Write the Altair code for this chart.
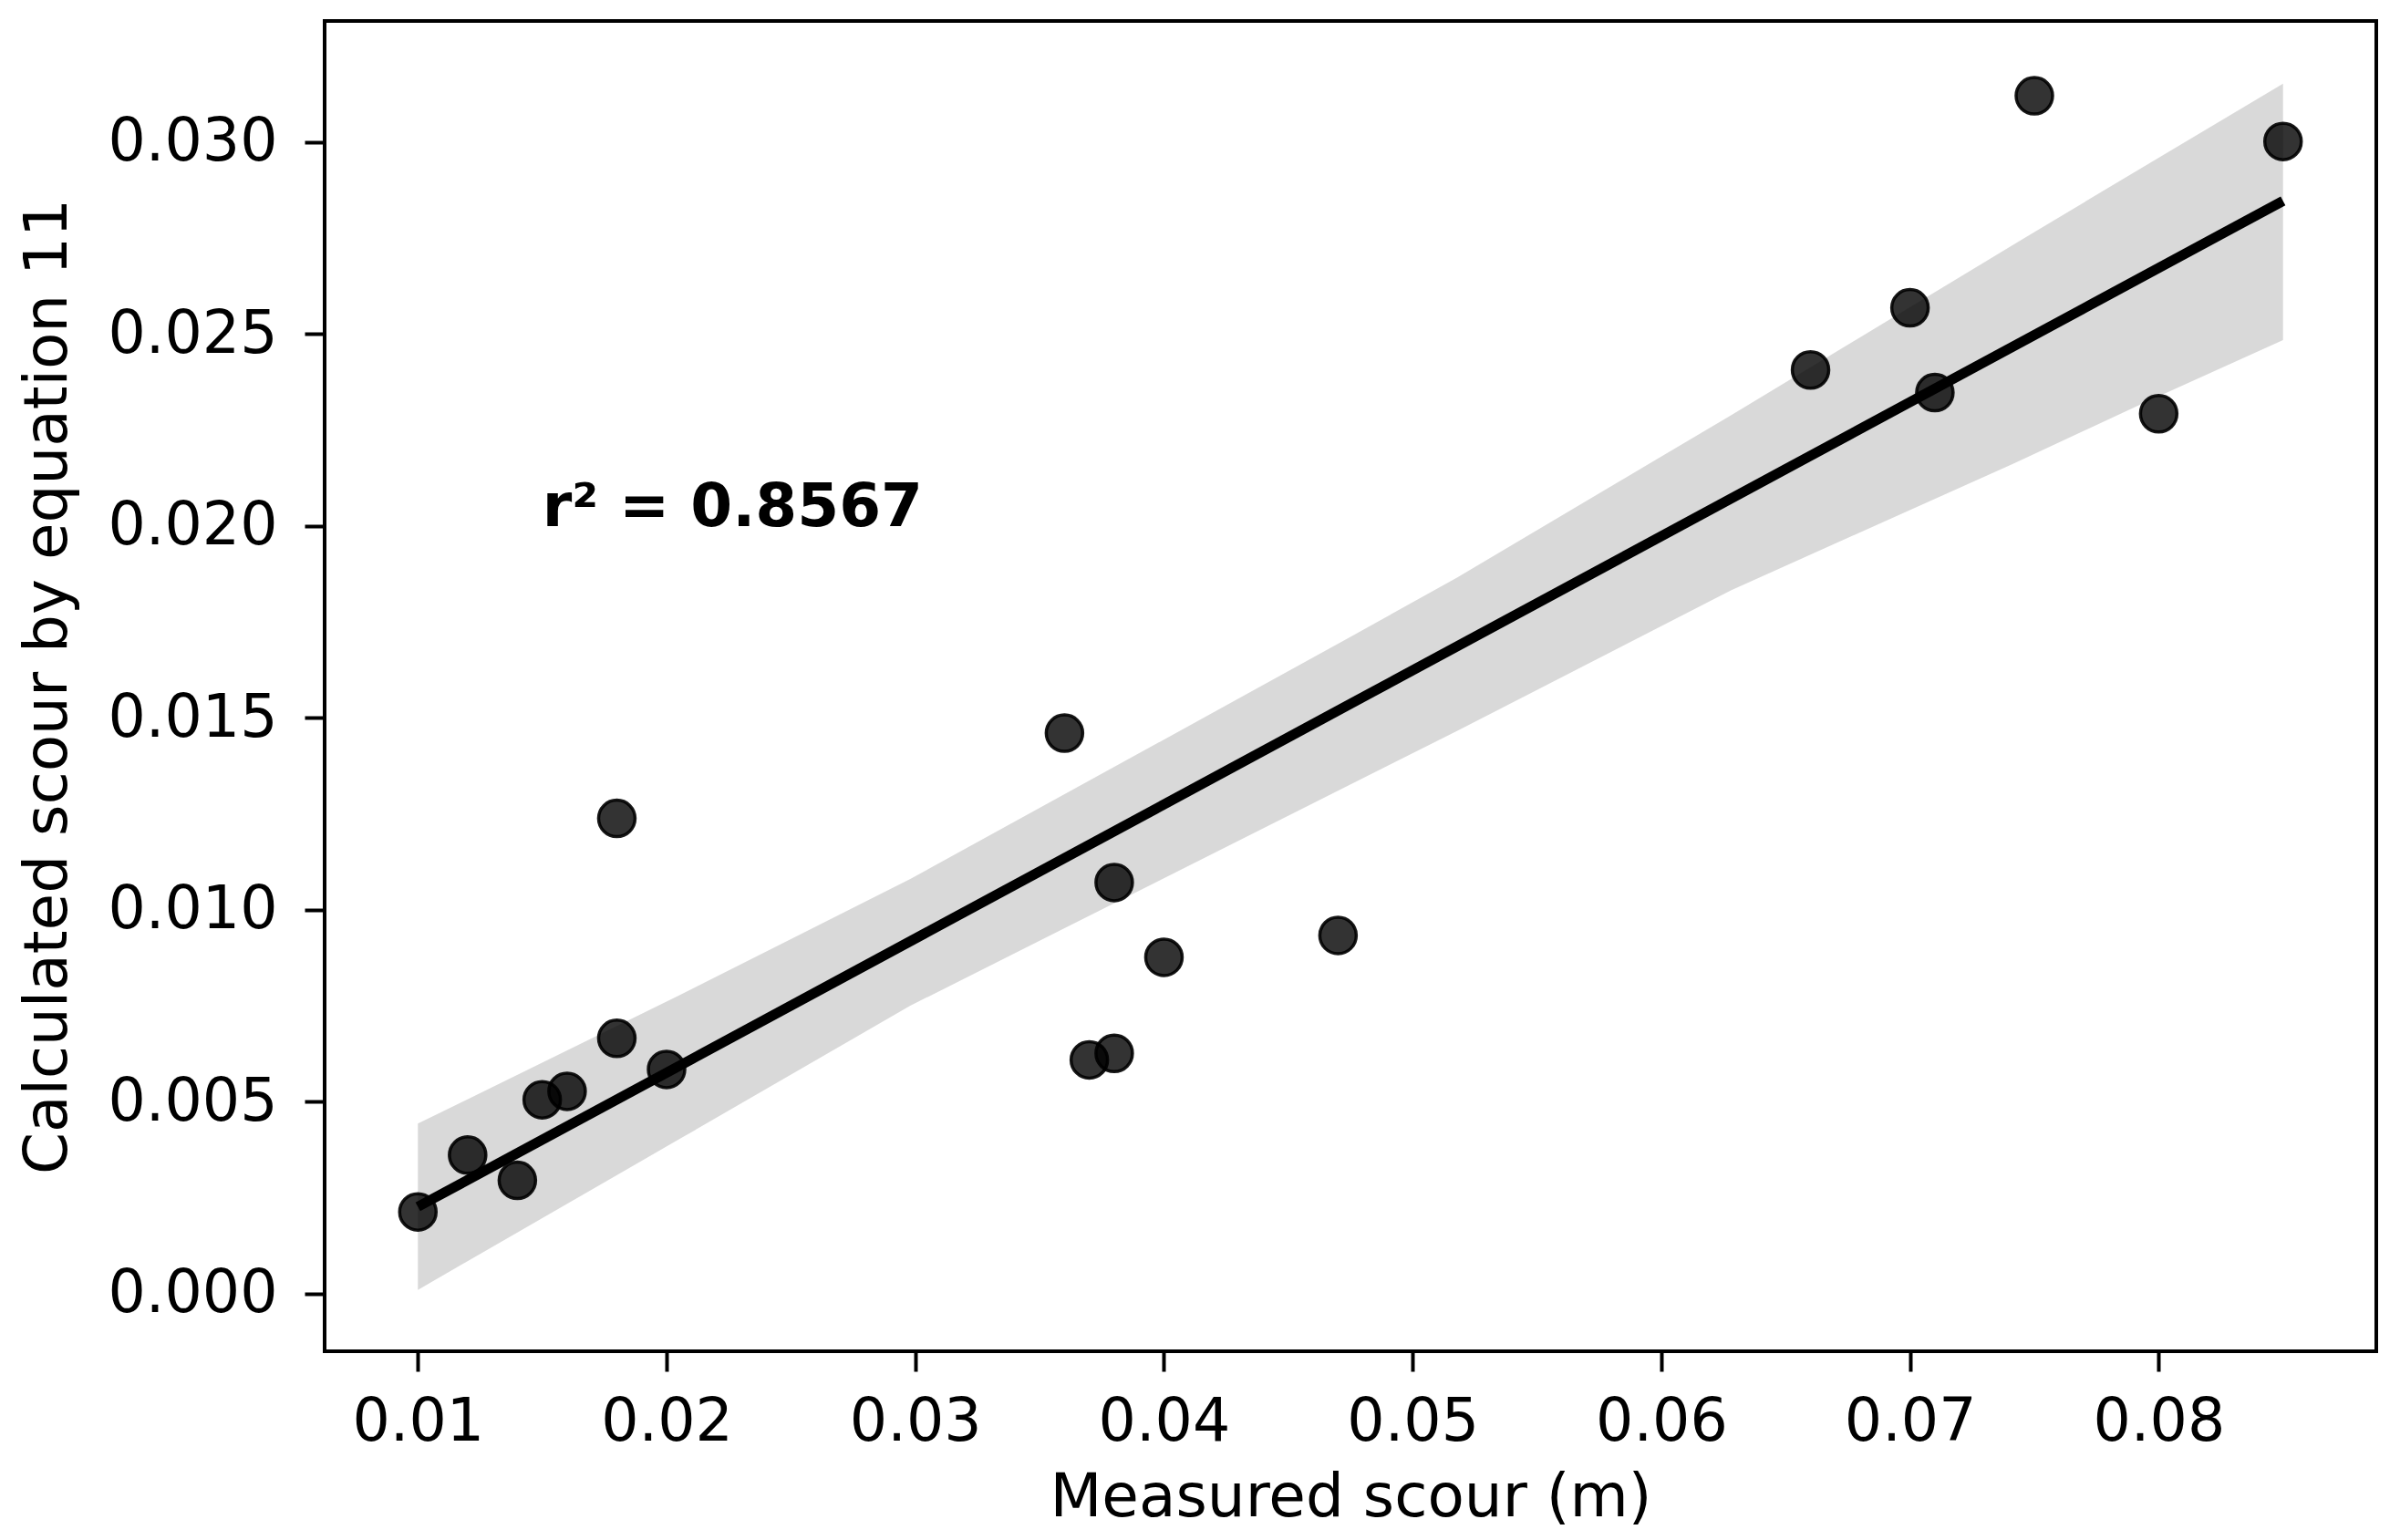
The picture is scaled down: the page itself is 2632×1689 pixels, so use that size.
import altair as alt
import pandas as pd

# Measured vs calculated scour
measured = [0.010, 0.012, 0.014, 0.015, 0.016, 0.018, 0.018, 0.020,
            0.036, 0.037, 0.038, 0.038, 0.040, 0.047,
            0.066, 0.070, 0.071, 0.075, 0.080, 0.085]
calculated = [0.00213, 0.00361, 0.00295, 0.00505, 0.00527, 0.00665, 0.01238, 0.00584,
              0.01460, 0.00609, 0.01071, 0.00626, 0.00876, 0.00933,
              0.02406, 0.02568, 0.02347, 0.03120, 0.02292, 0.03001]

# 95% confidence band edges of the fit
band_x = [0.010, 0.0205, 0.0298, 0.0474, 0.0518, 0.0628, 0.0743, 0.0792, 0.085]
band_lo = [0.00010, 0.00402, 0.00750, 0.01323, 0.01466, 0.01832, 0.02166, 0.02314, 0.02484]
band_hi = [0.00443, 0.00777, 0.01080, 0.01707, 0.01866, 0.02288, 0.02738, 0.02928, 0.03152]

x_ticks = [0.01, 0.02, 0.03, 0.04, 0.05, 0.06, 0.07, 0.08]
y_ticks = [0.000, 0.005, 0.010, 0.015, 0.020, 0.025, 0.030]

annot_x = [0.015]
annot_y = [0.0200]
annot_text = ["r\u00b2 = 0.8567"]

FONT = "DejaVu Sans"

pts = pd.DataFrame({"x": measured, "y": calculated})
band = pd.DataFrame({"x": band_x, "lo": band_lo, "hi": band_hi})
ann = pd.DataFrame({"x": annot_x, "y": annot_y, "t": annot_text})

xscale = alt.Scale(domain=[0.00625, 0.08875], nice=False, zero=False)
yscale = alt.Scale(domain=[-0.0015, 0.03315], nice=False, zero=False)

xaxis = alt.Axis(values=x_ticks, format=".2f", title="Measured scour (m)",
                 grid=False, domain=False, tickSize=22, tickWidth=4, tickColor="black",
                 labelFontSize=65, labelFont=FONT, labelColor="black", labelPadding=24,
                 labelLimit=500,
                 titleFontSize=66, titleFont=FONT, titleFontWeight="normal", titleColor="black",
                 titleY=180, titleBaseline="alphabetic")
yaxis = alt.Axis(values=y_ticks, format=".3f", title="Calculated scour by equation 11",
                 grid=False, domain=False, tickSize=22, tickWidth=4, tickColor="black",
                 labelFontSize=65, labelFont=FONT, labelColor="black", labelPadding=30,
                 labelLimit=500,
                 titleFontSize=66, titleFont=FONT, titleFontWeight="normal", titleColor="black",
                 titleX=-284, titleY=729.5, titleAngle=-90, titleAlign="center",
                 titleBaseline="alphabetic", titleLimit=2000)

points = alt.Chart(pts).mark_point(
    shape="circle", filled=True, size=1600, fill="black", fillOpacity=0.8,
    stroke="black", strokeWidth=3.5, strokeOpacity=0.9
).encode(
    x=alt.X("x:Q", scale=xscale, axis=xaxis),
    y=alt.Y("y:Q", scale=yscale, axis=yaxis),
)

area = alt.Chart(band).mark_area(color="black", opacity=0.15).encode(
    x=alt.X("x:Q", scale=xscale),
    y=alt.Y("lo:Q", scale=yscale),
    y2="hi:Q",
)

fit = alt.Chart(pts).transform_regression(
    "x", "y", method="linear", extent=[0.01, 0.085]
).mark_line(color="black", strokeWidth=11).encode(
    x=alt.X("x:Q", scale=xscale),
    y=alt.Y("y:Q", scale=yscale),
)

label = alt.Chart(ann).mark_text(
    align="left", baseline="alphabetic", font=FONT, fontSize=66,
    fontWeight="bold", color="black"
).encode(
    x=alt.X("x:Q", scale=xscale),
    y=alt.Y("y:Q", scale=yscale),
    text="t:N",
)

chart = alt.layer(points, area, fit, label).properties(
    width=2250, height=1459,
    background="white",
    autosize=alt.AutoSizeParams(type="none"),
    padding={"left": 348, "top": 15, "right": 10, "bottom": 205},
).configure_view(
    stroke="black", strokeWidth=4, fill="white"
)

chart.save("out.html", embed_options={"renderer": "svg", "actions": False})
